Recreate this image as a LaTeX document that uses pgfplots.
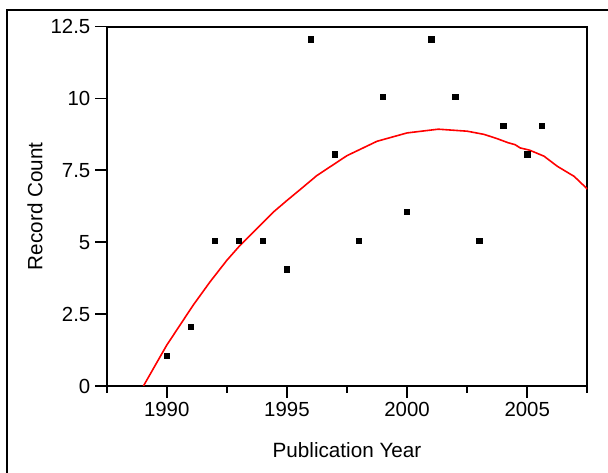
\documentclass[border=0pt]{standalone}
\usepackage{pgfplots}
\pgfplotsset{compat=1.18}
\usepackage{fontspec}
\setmainfont{Liberation Sans}
\begin{document}
\begin{tikzpicture}
\useasboundingbox (0,0) rectangle (456pt,354.75pt);
\clip (0,0) rectangle (456pt,354.75pt);
\draw[line width=1.1pt] (5.25pt,-10pt) rectangle (470pt,347.25pt);
\begin{axis}[
  at={(80pt,65.25pt)}, anchor=south west,
  scale only axis, width=360.5pt, height=269.6pt,
  xmin=1987.5, xmax=2007.5, ymin=0, ymax=12.5,
  xtick={1990,1995,2000,2005},
  minor xtick={1987.5,1992.5,1997.5,2002.5,2007.5},
  ytick={0,2.5,5,7.5,10,12.5},
  yticklabels={0,2.5,5,7.5,10,12.5},
  xticklabel style={/pgf/number format/1000 sep={}},
  /pgf/number format/assume math mode=true,
  tick align=outside,
  major tick length=8.75pt, minor tick length=5pt,
  every tick/.style={black, line width=1.3pt},
  axis line style={line width=1.5pt},
  tick label style={font=\fontsize{15.3}{15}\selectfont},
  xtick pos=bottom, ytick pos=left,
  xlabel={Publication Year}, ylabel={Record Count},
  every axis x label/.style={at={(axis description cs:0.5,-0.178)}, anchor=center, font=\fontsize{15.5}{16}\selectfont},
  every axis y label/.style={at={(axis description cs:-0.149,0.5)}, rotate=90, anchor=center, font=\fontsize{15.5}{16}\selectfont},
  clip=true,
]
\addplot[only marks, mark=square*, mark size=2pt, black, mark options={yshift=1.3pt}] coordinates {
(1990,1) (1991,2) (1992,5) (1993,5) (1994,5) (1995,4) (1996,12) (1997,8)
(1998,5) (1999,10) (2000,6) (2001,12) (2002,10) (2003,5) (2004,9) (2005,8) (2005.6,9)
};
\addplot[red, line width=1.2pt, no marks] coordinates {
(1989.03,0) (1990,1.42) (1991.1,2.81) (1991.8,3.62) (1992.5,4.37)
(1993.05,4.89) (1993.75,5.47) (1994.44,6.05) (1995,6.45) (1995.55,6.83) (1996.25,7.32)
(1997.5,8.01) (1998.75,8.51) (2000,8.80) (2001.3,8.93) (2002.5,8.86) (2003.2,8.75)
(2003.75,8.60) (2004.2,8.46) (2004.5,8.39) (2004.7,8.28) (2005.1,8.20)
(2005.7,7.99) (2006.25,7.64) (2006.95,7.29) (2007.5,6.85)
};
\end{axis}
\end{tikzpicture}
\end{document}
